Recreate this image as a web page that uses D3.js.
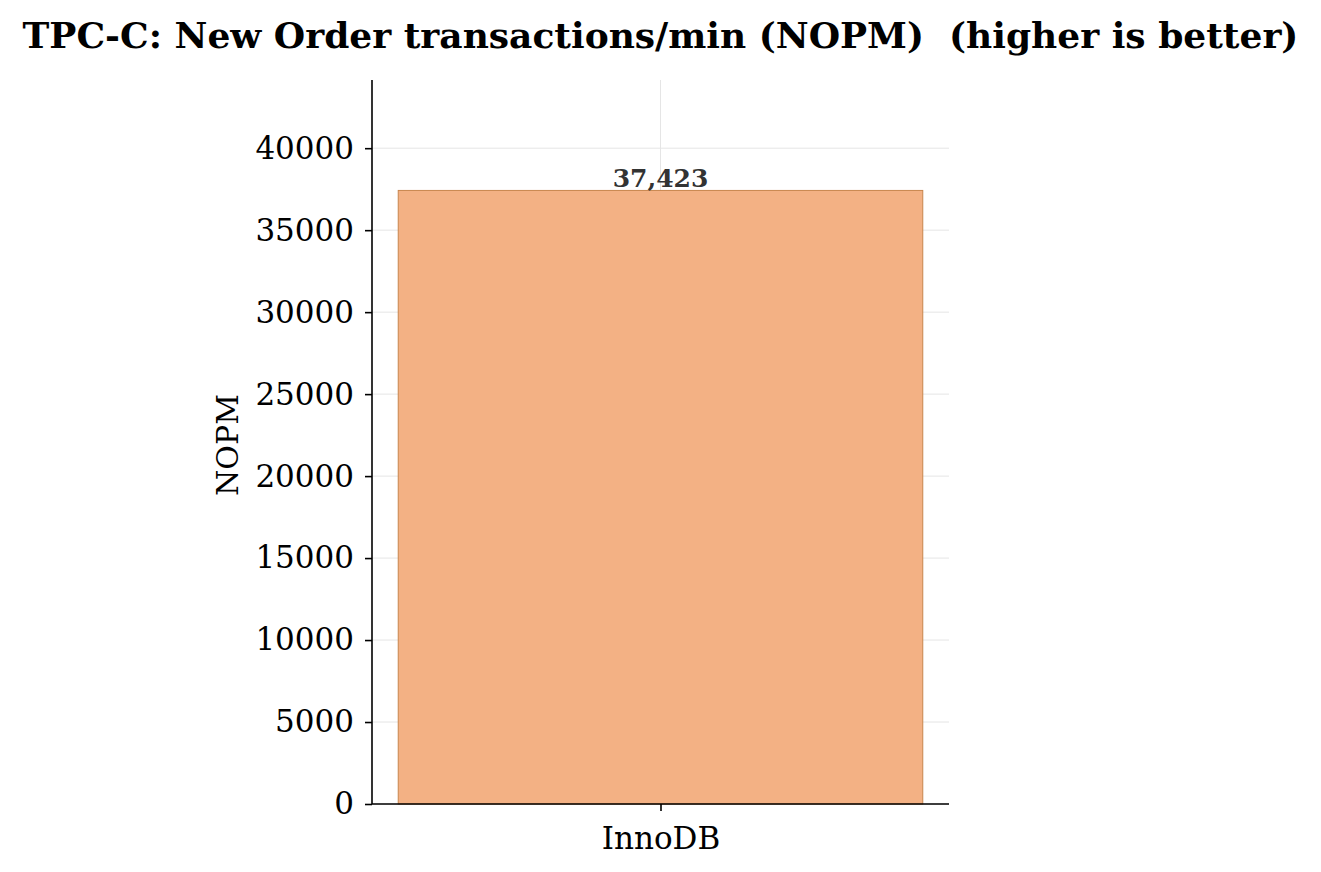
<!DOCTYPE html>
<html>
<head>
<meta charset="utf-8">
<script src="https://cdn.jsdelivr.net/npm/d3@7"></script>
<style>
  body { margin: 0; background: #fff; }
  svg { display: block; }
  text { font-family: "DejaVu Serif", serif; }
</style>
</head>
<body>
<svg id="chart" width="1321" height="872"></svg>
<script>
const categories = ["InnoDB"];
const values = [37423];
const yTicks = [0, 5000, 10000, 15000, 20000, 25000, 30000, 35000, 40000];
const titleText = "TPC-C: New Order transactions/min (NOPM)  (higher is better)";
const yLabel = "NOPM";

const W = 1321, H = 872;
const margin = { left: 372, right: W - 949, top: 80, bottom: H - 804 };
const svg = d3.select("#chart");
const iw = W - margin.left - margin.right;
const ih = H - margin.top - margin.bottom;
const g = svg.append("g").attr("transform", `translate(${margin.left},${margin.top})`);

const x = d3.scaleLinear().domain([-0.44, categories.length - 1 + 0.44]).range([0, iw]);
const y = d3.scaleLinear().domain([0, d3.max(values) * 1.18]).range([ih, 0]);
const barW = 0.8;

// grid
g.append("g").selectAll("line.h").data(yTicks).join("line")
  .attr("x1", 0).attr("x2", iw)
  .attr("y1", d => y(d)).attr("y2", d => y(d))
  .attr("stroke", "#e5e5e5").attr("stroke-width", 1);
g.append("g").selectAll("line.v").data(categories).join("line")
  .attr("x1", (d, i) => x(i)).attr("x2", (d, i) => x(i))
  .attr("y1", 0).attr("y2", ih)
  .attr("stroke", "#e5e5e5").attr("stroke-width", 1);

// bars
g.append("g").selectAll("rect").data(values).join("rect")
  .attr("x", (d, i) => x(i - barW / 2))
  .attr("width", (d, i) => x(i + barW / 2) - x(i - barW / 2))
  .attr("y", d => y(d))
  .attr("height", d => ih - y(d))
  .attr("fill", "#f3b184")
  .attr("stroke", "#c8854d")
  .attr("stroke-width", 1);

// bar labels
g.append("g").selectAll("text").data(values).join("text")
  .attr("x", (d, i) => x(i))
  .attr("y", d => y(d) - 3)
  .attr("text-anchor", "middle")
  .attr("font-size", 25)
  .attr("font-weight", "bold")
  .attr("fill", "#333")
  .text(d => d3.format(",")(d));

// axes
const yAxis = d3.axisLeft(y).tickValues(yTicks).tickFormat(d3.format("d")).tickSize(7).tickPadding(11);
const yg = g.append("g").call(yAxis);
yg.select(".domain").attr("stroke", "#000").attr("stroke-width", 1.6).attr("d", `M0,0V${ih}`);
yg.selectAll(".tick line").attr("stroke", "#000").attr("stroke-width", 1.6);
yg.selectAll(".tick text").attr("font-size", 31).attr("font-family", "DejaVu Serif").attr("fill", "#000");

const xAxis = d3.axisBottom(x).tickValues(categories.map((d, i) => i)).tickFormat(i => categories[i]).tickSize(7).tickPadding(16);
const xg = g.append("g").attr("transform", `translate(0,${ih})`).call(xAxis);
xg.select(".domain").attr("stroke", "#000").attr("stroke-width", 1.6).attr("d", `M0,0H${iw}`);
xg.selectAll(".tick line").attr("stroke", "#000").attr("stroke-width", 1.6);
xg.selectAll(".tick text").attr("font-size", 31).attr("font-family", "DejaVu Serif").attr("fill", "#000");

// y label
svg.append("text")
  .attr("transform", `translate(238,${margin.top + ih / 2 + 3}) rotate(-90)`)
  .attr("text-anchor", "middle")
  .attr("font-size", 30)
  .attr("fill", "#000")
  .text(yLabel);

// title
svg.append("text")
  .attr("x", W / 2).attr("y", 48)
  .attr("text-anchor", "middle")
  .attr("font-size", 36)
  .attr("font-weight", "bold")
  .attr("fill", "#000")
  .style("white-space", "pre")
  .text(titleText);
</script>
</body>
</html>
